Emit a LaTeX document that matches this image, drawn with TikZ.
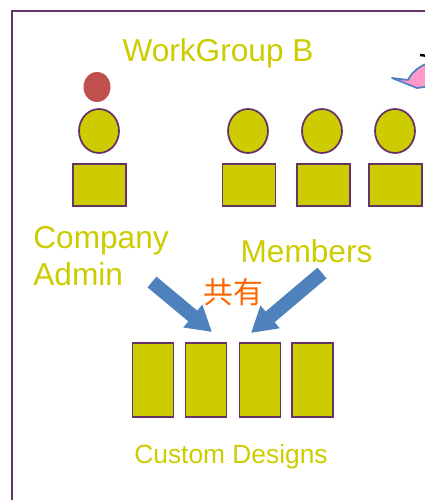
\documentclass[tikz,border=0pt]{standalone}
\usepackage{fontspec}
\setmainfont{Liberation Sans}
\newfontfamily\cjkfont{Noto Sans CJK JP}
\usepackage{tikz}
\usetikzlibrary{arrows.meta,shapes.geometric}
\definecolor{frameC}{HTML}{663366}
\definecolor{oliveC}{HTML}{CCCC00}
\definecolor{arrowC}{HTML}{4F81BD}
\definecolor{dotC}{HTML}{C0504D}
\definecolor{shareC}{HTML}{FF6600}
\definecolor{pinkC}{HTML}{FF99CC}

\begin{document}
\begin{tikzpicture}[
    x=0.02cm,y=-0.02cm,
    head/.style={ellipse,draw=frameC,fill=oliveC,line width=1pt,inner sep=0pt,minimum width=0.8cm,minimum height=0.88cm},
    body/.style={rectangle,draw=frameC,fill=oliveC,line width=1pt,inner sep=0pt,minimum width=1.06cm,minimum height=0.84cm},
    design/.style={rectangle,draw=frameC,fill=oliveC,line width=1pt,inner sep=0pt,minimum width=0.82cm,minimum height=1.48cm},
    label/.style={text=oliveC,font=\fontsize{18}{21}\selectfont,inner sep=0pt},
    share/.style={-{Triangle[length=0.5cm,width=0.56cm]},arrowC,line width=0.28cm}
]
\useasboundingbox (0,0) rectangle (425,500);

% Frame
\draw[frameC,line width=1.2pt] (12,510) -- (12,11) -- (435,11);

% Title
\node[label] (title) at (218,53) {WorkGroup B};

% Admin
\node[ellipse,fill=dotC,inner sep=0pt,minimum width=0.54cm,minimum height=0.6cm] (dot) at (97,87) {};
\node[head] (adminhead) at (99,131) {};
\node[body] (adminbody) at (99.5,185) {};

% Members
\foreach \x/\y/\n in {248/249/a,322/323.5/b,395/395.5/c} {
    \node[head] (head\n) at (\x,131) {};
    \node[body] (body\n) at (\y,185) {};
}

% Labels
\node[label,align=left,anchor=west] (admin) at (33,256) {Company\\Admin};
\node[label] (members) at (306.5,251) {Members};
\node[text=shareC,font=\fontsize{17}{20}\cjkfont,inner sep=0pt] (shared) at (233,292) {共有};

% Designs
\foreach \x/\n in {153/a,206/b,260/c,312.5/d} {
    \node[design] (design\n) at (\x,380) {};
}
\node[label,font=\fontsize{15}{18}\selectfont] (designs) at (231,457) {Custom Designs};

% Arrows
\coordinate (tailL) at (152,282);
\coordinate (tipL) at (212,332);
\coordinate (tailR) at (322,273);
\coordinate (tipR) at (251,333);
\draw[share] (tailL) -- (tipL);
\draw[share] (tailR) -- (tipR);

% Cut off shape on the right
\begin{scope}
\clip (0,0) rectangle (425,500);
\draw[arrowC,fill=pinkC,line width=1pt,line join=round] (392,78) -- (408,80) .. controls (412,72) and (420,65) .. (432,62) -- (432,86) -- (417,88) -- cycle;
\draw[black,line width=1.4pt] (420,55) -- (428,56);
\end{scope}

\end{tikzpicture}
\end{document}
